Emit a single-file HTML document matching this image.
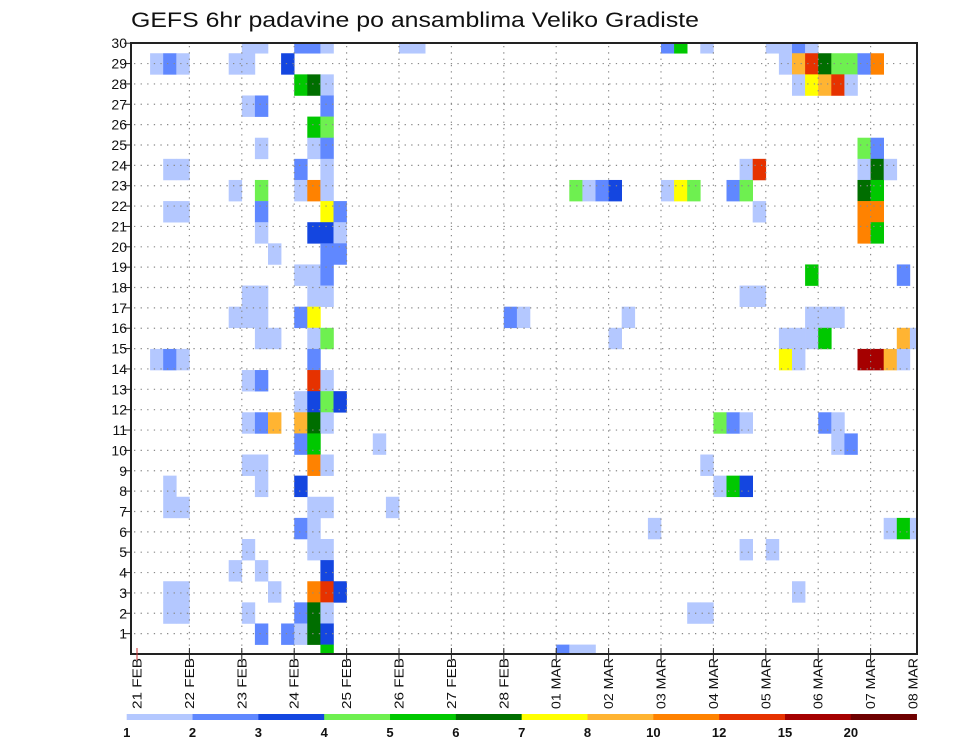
<!DOCTYPE html>
<html><head><meta charset="utf-8"><title>GEFS 6hr padavine</title>
<style>html,body{margin:0;padding:0;background:#fff}svg{display:block}</style></head>
<body>
<svg id="chart" width="960" height="742" viewBox="0 0 960 742" xmlns="http://www.w3.org/2000/svg">
<text x="131" y="27" font-family="Liberation Sans, sans-serif" font-size="21" fill="#111" textLength="568" lengthAdjust="spacingAndGlyphs">GEFS 6hr padavine po ansamblima Veliko Gradiste</text>
<g id="cells"></g><g id="grid"></g><g id="axes"></g><g id="cbar"></g>
</svg>
<script>
// data: ensemble member index, 6-hour step index (0 = 21 FEB 00z), precipitation level index
const members = [29,29,29,29,29,29,29,29,29,29,29,29,29,29,
28,28,28,28,28,28,28,28,28,28,28,28,28,28,
27,27,27,27,27,27,27,27,
26,26,26, 25,25,
24,24,24,24,24,
23,23,23,23,23,23,23,23,23,
22,22,22,22,22,22,22,22,22,22,22,22,22,22,22,22,
21,21,21,21,21,21,21,21,
20,20,20,20,20,20,
19,19,19,
18,18,18,18,18,
17,17,17,17,17,17,
16,16,16,16,16,16,16,16,16,16,16,
15,15,15,15,15,15,15,15,15,15,15,
14,14,14,14,14,14,14,14,14,14,
13,13,13,13,
12,12,12,12,
11,11,11,11,11,11,11,11,11,11,11,
10,10,10,10,10,
9,9,9,9,9,
8,8,8,8,8,8,
7,7,7,7,7,
6,6,6,6,6,6,
5,5,5,5,5,
4,4,4,
3,3,3,3,3,3,3,
2,2,2,2,2,2,2,2,
1,1,1,1,1,
0,0,0,0];
const steps = [8,9,12,13,14,20,21,40,41,43,48,49,50,51,
1,2,3,7,8,11,49,50,51,52,53,54,55,56,
12,13,14,50,51,52,53,54,
8,9,14, 13,14,
9,13,14,55,56,
2,3,12,14,46,47,55,56,57,
7,9,12,13,14,33,34,35,36,40,41,42,45,46,55,56,
2,3,9,14,15,47,55,56,
9,13,14,15,55,56,
10,14,15,
12,13,14,51,58,
8,9,13,14,46,47,
7,8,9,12,13,28,29,37,51,52,53,
9,10,13,14,36,49,50,51,52,58,59,
1,2,3,13,49,50,55,56,57,58,
8,9,13,14,
12,13,14,15,
8,9,10,12,13,14,44,45,46,52,53,
12,13,18,53,54,
8,9,13,14,43,
2,9,12,44,45,46,
2,3,13,14,19,
12,13,39,57,58,59,
8,13,14,46,48,
7,9,14,
2,3,10,13,14,15,50,
2,3,8,12,13,14,42,43,
9,11,12,13,14,
14,32,33,34];
const levels = [0,0,1,1,0,0,0,1,4,0,0,0,1,0,
0,1,0,0,0,2,0,7,9,5,3,3,1,8,
4,5,0,0,6,7,9,0,
0,1,1, 4,3,
0,0,1,3,1,
0,0,1,0,0,9,0,5,0,
0,3,0,8,0,3,0,1,2,0,6,3,1,3,5,4,
0,0,1,6,1,0,8,8,
0,2,2,0,8,4,
0,1,1,
0,0,1,4,1,
0,0,0,0,0,0,
0,0,0,1,6,1,0,0,0,0,0,
0,0,0,3,0,0,0,0,4,7,0,
0,1,0,1,6,0,10,10,7,0,
0,1,9,0,
0,2,3,2,
0,1,7,7,5,0,3,1,0,1,0,
1,4,0,0,1,
0,0,8,0,0,
0,0,2,0,4,2,
0,0,0,0,0,
1,0,0,0,4,0,
0,0,0,0,0,
0,0,2,
0,0,0,8,9,2,0,
0,0,0,1,5,0,0,0,
1,1,0,5,2,
4,1,0,0];
const levelLabels = ["1","2","3","4","5","6","7","8","10","12","15","20"];
const levelColors = ["#b4c8ff","#6088ff","#1446e0","#6ef050","#00c800","#006e00","#ffff00","#ffb432","#ff8200","#e63200","#a50000","#6e0000"];
const yTicks = [1,2,3,4,5,6,7,8,9,10,11,12,13,14,15,16,17,18,19,20,21,22,23,24,25,26,27,28,29,30];
const xTickLabels = ["21 FEB","22 FEB","23 FEB","24 FEB","25 FEB","26 FEB","27 FEB","28 FEB","01 MAR","02 MAR","03 MAR","04 MAR","05 MAR","06 MAR","07 MAR","08 MAR"];

const NS="http://www.w3.org/2000/svg";
const L=131,R=917,T=43,B=654;
const x0=137, dayW=52.4, stepW=dayW/4;
function xStep(k){return x0+k*stepW;}
function xDay(d){return x0+d*dayW;}
function yCellTop(n){return 644.6-21.12*n;}
const cellH=21.12;
function yRow(r){return 654-20.36*r;}
function mk(tag,attrs,parent){const e=document.createElementNS(NS,tag);for(const k in attrs)e.setAttribute(k,attrs[k]);parent.appendChild(e);return e;}

const cells=document.getElementById('cells');
mk('clipPath',{id:'plotclip'},cells);
const cp=cells.lastChild; mk('rect',{x:L,y:T,width:R-L,height:B-T},cp);
const cg=mk('g',{'clip-path':'url(#plotclip)'},cells);
for(let i=0;i<members.length;i++){
  const r=mk('rect',{x:xStep(steps[i]).toFixed(2),y:yCellTop(members[i]).toFixed(2),width:(stepW+0.3).toFixed(2),height:(cellH+0.3).toFixed(2),fill:levelColors[levels[i]]},cg);
  
  
}
const grid=document.getElementById('grid');
for(let i=0;i<yTicks.length-1;i++){
  const y=yRow(yTicks[i]);
  const l=mk('line',{x1:L+3,x2:R,y1:y,y2:y,stroke:'#8a8a8a','stroke-width':1.2,'stroke-dasharray':'1.3,5.3'},grid);
  
  
}
for(let d=1;d<xTickLabels.length-1;d++){
  const x=xDay(d);
  const l=mk('line',{x1:x,x2:x,y1:T+3,y2:B,stroke:'#8a8a8a','stroke-width':1.2,'stroke-dasharray':'1.3,5'},grid);
  
  
}
const axes=document.getElementById('axes');
const fr=mk('rect',{x:L,y:T,width:R-L,height:B-T,fill:'none',stroke:'#222','stroke-width':2},axes);


for(let i=0;i<yTicks.length;i++){
  const y=yRow(yTicks[i]);
  mk('line',{x1:124,x2:L,y1:y,y2:y,stroke:'#222','stroke-width':1},axes);
  const t=mk('text',{x:127,y:y+5,'text-anchor':'end','font-family':'Liberation Sans, sans-serif','font-size':14,fill:'#111'},axes);
  t.textContent=yTicks[i];
  
  
}
for(let d=0;d<xTickLabels.length;d++){
  const x=xDay(d);
  if(x<=R){
    mk('line',{x1:x,x2:x,y1:B-6,y2:B+6,stroke:d===0?'#c33':'#222','stroke-width':1},axes);
  }
  const tx=Math.min(x,913)+4.5;
  const t=mk('text',{x:0,y:0,transform:'translate('+tx.toFixed(1)+',658) rotate(-90)','text-anchor':'end','font-family':'Liberation Sans, sans-serif','font-size':13,fill:'#111',textLength:51,lengthAdjust:'spacingAndGlyphs'},axes);
  t.textContent=xTickLabels[d];
  
  
}
const cbar=document.getElementById('cbar');
const cbL=126.7, cbW=65.83;
for(let i=0;i<levelColors.length;i++){
  const r=mk('rect',{x:(cbL+i*cbW).toFixed(2),y:714,width:(cbW+0.3).toFixed(2),height:6,fill:levelColors[i]},cbar);
  
  
  const t=mk('text',{x:(cbL+i*cbW).toFixed(2),y:737,'text-anchor':'middle','font-family':'Liberation Sans, sans-serif','font-size':13,'font-weight':'bold',fill:'#111'},cbar);
  t.textContent=levelLabels[i];
  
  
}
</script>
</body></html>
